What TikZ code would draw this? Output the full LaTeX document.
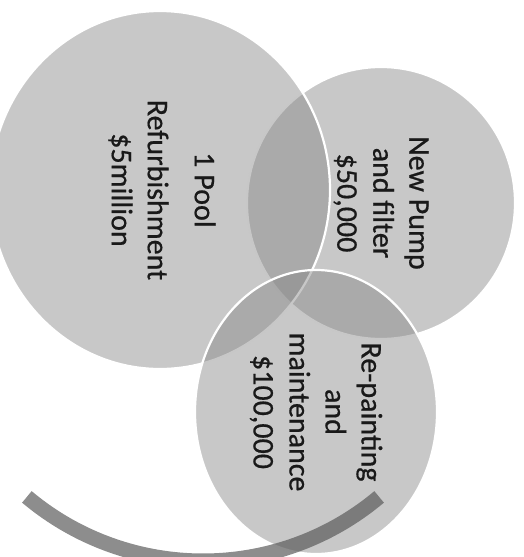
\documentclass[tikz,border=0pt]{standalone}
\usepackage{fontspec}
\setmainfont{Carlito}
\newfontfamily\lblfont{Carlito}[FakeBold=0.6]
\begin{document}
\begin{tikzpicture}[x=1pt,y=-1pt,
		venn/.style={draw=white,line width=2.2pt,fill=black!47.5,fill opacity=0.455},
		band/.style={draw=black!64,draw opacity=0.7,line width=15pt},
		lbl/.style={rotate=-90,align=center,text=black!90,font=\lblfont\fontsize{30}{36}\selectfont}]
	\useasboundingbox (0,0) rectangle (524,557);
	\clip (0,0) rectangle (524,557);
	\coordinate (cpool) at (160,190);
	\coordinate (cpump) at (381,203);
	\coordinate (cpaint) at (316,412);
	\coordinate (cband) at (203,287);
	% circles, back to front
	\draw[venn] (cpump) ellipse [x radius=134,y radius=136];
	\draw[venn] (cpool) ellipse [x radius=170,y radius=179];
	\draw[venn] (cpaint) ellipse [x radius=121,y radius=142];
	\draw[band] (cband) ++(130:274) arc[start angle=130,end angle=50,radius=274];
	% labels
	\node[lbl] (pool) at ([xshift=2]cpool) {1 Pool\\[11pt]Refurbishment\\\$5million};
	\node[lbl] (pump) at (cpump) {New Pump\\and filter\\\$50,000};
	\node[lbl] (paint) at (cpaint) {Re-painting\\and\\maintenance\\\$100,000};
\end{tikzpicture}
\end{document}
